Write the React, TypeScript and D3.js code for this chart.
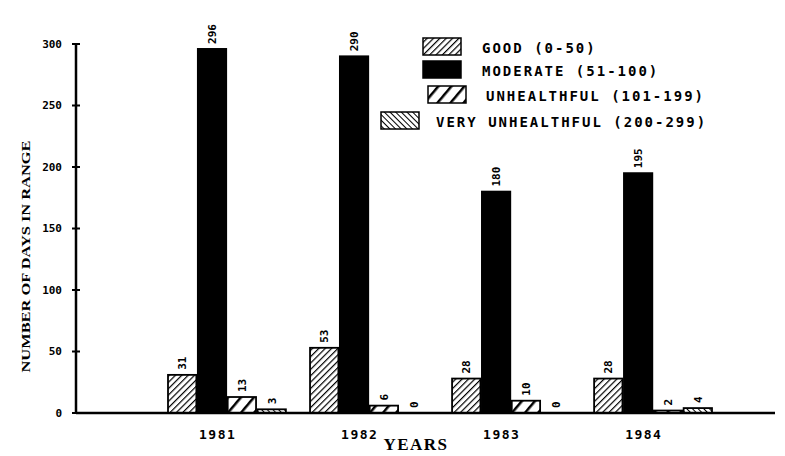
import React from 'react';
import * as d3 from 'd3';

// values
const years = ['1981', '1982', '1983', '1984'];
const series = ['good', 'moderate', 'unhealthful', 'veryUnhealthful'];
const seriesLabels = [
  'GOOD (0-50)',
  'MODERATE (51-100)',
  'UNHEALTHFUL (101-199)',
  'VERY UNHEALTHFUL (200-299)',
];
const good = [31, 53, 28, 28];
const moderate = [296, 290, 180, 195];
const unhealthful = [13, 6, 10, 2];
const veryUnhealthful = [3, 0, 0, 4];
const yTicks = [0, 50, 100, 150, 200, 250, 300];

const values: Record<string, number[]> = { good, moderate, unhealthful, veryUnhealthful };

const fills: Record<string, string> = {
  good: 'url(#hatchGood)',
  moderate: '#000',
  unhealthful: 'url(#hatchUnh)',
  veryUnhealthful: 'url(#hatchVery)',
};

const mono = '"DejaVu Sans Mono", monospace';

export default function App() {
  const width = 785, height = 456;
  const baseY = 413;
  const axisX = 76;

  const y = d3.scaleLinear().domain([0, 300]).range([baseY, 44]);
  const x = d3.scaleBand().domain(years).range([168, 712]).paddingInner(0.17).paddingOuter(0);
  const inner = d3.scaleBand().domain(series).range([0, x.bandwidth()]).paddingInner(0.05);

  // legend rows (swatch x, text x, baseline)
  const legendRows = [
    { sx: 423, tx: 482, ty: 53 },
    { sx: 423, tx: 482, ty: 76 },
    { sx: 428, tx: 486, ty: 101 },
    { sx: 381, tx: 436, ty: 127 },
  ];

  return (
    <svg width={width} height={height} style={{ position: 'absolute', left: 0, top: 0, background: '#fff' }}>
      <defs>
        <pattern id="hatchGood" patternUnits="userSpaceOnUse" width="4.5" height="4.5" patternTransform="rotate(45)">
          <rect width="4.5" height="4.5" fill="#fff" />
          <line x1="0" y1="0" x2="0" y2="4.5" stroke="#000" strokeWidth="2.4" />
        </pattern>
        <pattern id="hatchUnh" patternUnits="userSpaceOnUse" width="10" height="10" patternTransform="rotate(40)">
          <rect width="10" height="10" fill="#fff" />
          <line x1="0" y1="0" x2="0" y2="10" stroke="#000" strokeWidth="5" />
        </pattern>
        <pattern id="hatchVery" patternUnits="userSpaceOnUse" width="4" height="4" patternTransform="rotate(-45)">
          <rect width="4" height="4" fill="#fff" />
          <line x1="0" y1="0" x2="0" y2="4" stroke="#000" strokeWidth="2" />
        </pattern>
      </defs>

      {/* y axis */}
      <line x1={axisX} x2={axisX} y1={y(300)} y2={baseY} stroke="#000" strokeWidth={2.5} />
      {yTicks.map((t) => (
        <g key={t} transform={`translate(0,${y(t)})`}>
          <line x1={axisX - 4} x2={axisX + 4} stroke="#000" strokeWidth={2} />
          <text x={axisX - 14} dy="0.35em" textAnchor="end" fontFamily={mono} fontWeight="bold" fontSize={11}>
            {t}
          </text>
        </g>
      ))}
      <text
        transform={`translate(30,${(y(300) + baseY) / 2 + 28}) rotate(-90)`}
        textAnchor="middle"
        fontFamily='"Liberation Serif", serif'
        fontWeight="bold"
        fontSize={13}
        textLength={232}
        lengthAdjust="spacingAndGlyphs"
      >
        NUMBER OF DAYS IN RANGE
      </text>

      {/* bars */}
      {years.map((yr, i) => (
        <g key={yr} transform={`translate(${x(yr)},0)`}>
          {series.map((s) => {
            const v = values[s][i];
            const bx = inner(s)!;
            const bw = inner.bandwidth();
            return (
              <g key={s}>
                {v > 0 && (
                  <rect
                    x={bx}
                    y={y(v)}
                    width={bw}
                    height={baseY - y(v)}
                    fill={fills[s]}
                    stroke="#000"
                    strokeWidth={1.8}
                  />
                )}
                <text
                  transform={`translate(${bx + bw / 2},${y(v) - 5}) rotate(-90)`}
                  dy="0.35em"
                  fontFamily={mono}
                  fontWeight="bold"
                  fontSize={11}
                >
                  {v}
                </text>
              </g>
            );
          })}
          <text
            x={inner('unhealthful')! - 10}
            y={baseY + 26}
            textAnchor="middle"
            fontFamily={mono}
            fontWeight="bold"
            fontSize={13}
            letterSpacing={1.5}
          >
            {yr}
          </text>
        </g>
      ))}

      {/* baseline */}
      <line x1={axisX} x2={775} y1={baseY} y2={baseY} stroke="#000" strokeWidth={2.5} />

      <text
        x={416}
        y={450}
        textAnchor="middle"
        fontFamily='"Liberation Serif", serif'
        fontWeight="bold"
        fontSize={17}
        letterSpacing={1.5}
      >
        YEARS
      </text>

      {/* legend */}
      {series.map((s, i) => {
        const r = legendRows[i];
        return (
          <g key={s}>
            <rect x={r.sx} y={r.ty - 15} width={38} height={17} fill={fills[s]} stroke="#000" strokeWidth={1.5} />
            <text x={r.tx} y={r.ty} fontFamily={mono} fontWeight="bold" fontSize={14} letterSpacing={2}>
              {seriesLabels[i]}
            </text>
          </g>
        );
      })}
    </svg>
  );
}
